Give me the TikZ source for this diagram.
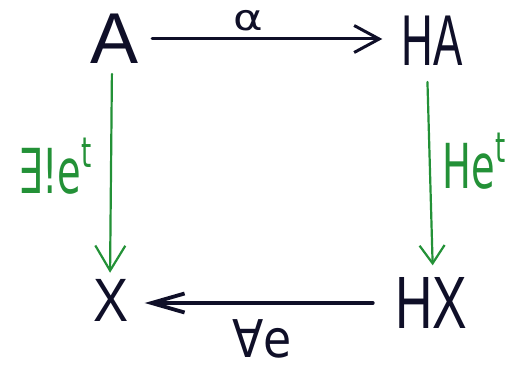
\documentclass[tikz,border=0pt]{standalone}
\usepackage{fontspec}
\usepackage{graphicx}
\setmainfont{Liberation Sans}
\newfontfamily\symf{DejaVu Sans}
\usetikzlibrary{arrows.meta}
\definecolor{ink}{RGB}{15,15,40}
\definecolor{grn}{RGB}{35,145,55}
\begin{document}
\begin{tikzpicture}[x=1pt,y=1pt,
  obj/.style={text=ink, font=\fontsize{72}{72}\selectfont, inner sep=0pt},
  glab/.style={text=grn, font=\symf\fontsize{62}{62}\selectfont, inner sep=0pt},
  blab/.style={text=ink, font=\symf\fontsize{52}{52}\selectfont, inner sep=0pt},
  blk/.style={draw=ink, line width=3pt, line cap=round},
  grar/.style={draw=grn, line width=2.2pt, line cap=round},
]
\useasboundingbox (0,0) rectangle (505,373);
\fill[white] (0,0) rectangle (505,373);
% objects
\node[obj] (A)  at (115,334) {A};
\node[obj] (HA) at (432,332) {\scalebox{0.61}[1]{HA}};
\node[obj] (X)  at (111,73)  {\scalebox{0.73}[0.85]{X}};
\node[obj] (HX) at (431,70)  {\scalebox{0.72}[1.03]{HX}};
% arrows
\draw[blk, -{Straight Barb[length=25pt,width=27pt,line width=3pt]},
      shorten <=13pt, shorten >=19pt] (A.east) -- ([yshift=2pt]HA.west);
\draw[grar, -{Straight Barb[length=25pt,width=30pt,line width=2.2pt]},
      shorten <=10pt, shorten >=6pt] ([xshift=-3pt]A.south) -- ([xshift=-1pt]X.north);
\draw[grar, -{Straight Barb[length=18pt,width=25pt,line width=2.2pt]},
      shorten <=16pt, shorten >=12pt] ([xshift=-5pt]HA.south) -- ([xshift=2pt]HX.north);
\draw[blk, line width=3.8pt, -{Straight Barb[length=33pt,width=19pt,line width=3.8pt]},
      shorten <=22pt, shorten >=16pt] (HX.west) -- ([yshift=-3pt]X.east);
% labels
\node[blab, font=\symf\fontsize{36}{36}\selectfont] (alpha) at (248,352) {\scalebox{1.25}[1]{α}};
\node[glab] (lleft) at (55,207) {\scalebox{0.62}[1]{∃!e\raisebox{0.42em}{\fontsize{42}{42}\selectfont t}}};
\node[glab] (lright) at (474,212) {\scalebox{0.62}[1]{He\raisebox{0.42em}{\fontsize{42}{42}\selectfont t}}};
\node[blab] (lbot) at (262,34) {\scalebox{0.88}[1]{∀e}};
\end{tikzpicture}
\end{document}
